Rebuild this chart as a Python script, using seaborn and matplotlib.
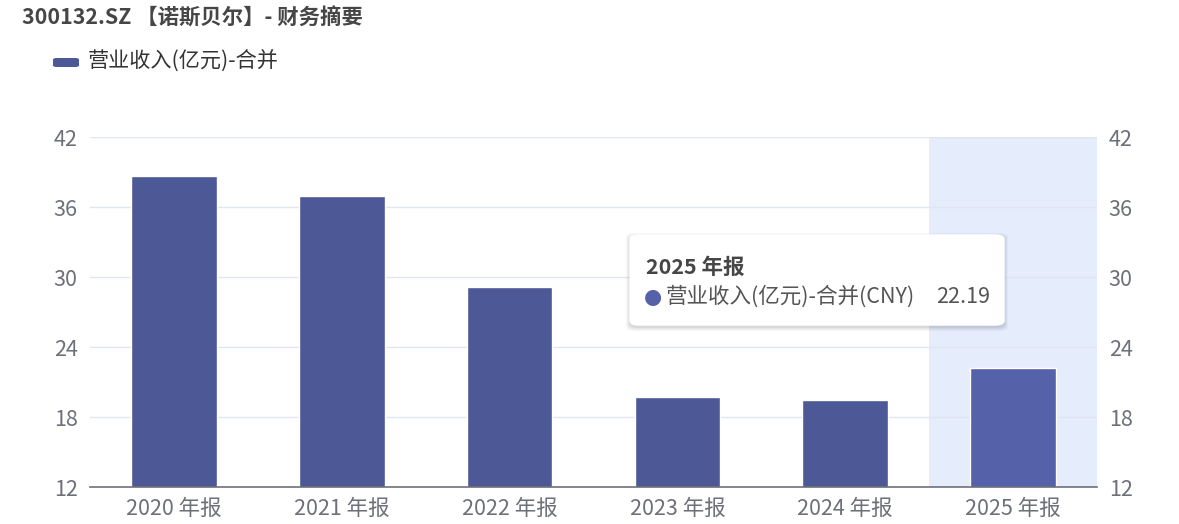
import matplotlib
matplotlib.use("Agg")
import matplotlib.pyplot as plt
from matplotlib.patches import FancyBboxPatch
import seaborn as sns
import pandas as pd

# data
periods = ["2020 年报", "2021 年报", "2022 年报", "2023 年报", "2024 年报", "2025 年报"]
revenue = [38.65, 36.94, 29.17, 19.69, 19.43, 22.19]
series_name = "营业收入(亿元)-合并"
y_ticks = [12, 18, 24, 30, 36, 42]
highlight = "2025 年报"

df = pd.DataFrame({"period": periods, "revenue": revenue})

sns.set_style("white")
plt.rcParams["font.family"] = ["Noto Sans CJK SC", "DejaVu Sans"]

text_grey = "#6e7079"
bar_color = "#4d5897"
hover_color = "#5561a8"
colors = [hover_color if p == highlight else bar_color for p in periods]
fs = 15.5

W, H = 1179, 524
fig = plt.figure(figsize=(W / 100, H / 100), dpi=100)
ax = fig.add_axes([90 / W, 1 - 487 / H, (1097 - 90) / W, (487 - 137) / H])

# hover band behind the highlighted category
hi = periods.index(highlight)
ax.axvspan(hi - 0.5, hi + 0.5, color="#e5ecfb", zorder=0, lw=0)

sns.barplot(data=df, x="period", y="revenue", hue="period", palette=colors,
            width=0.51, legend=False, saturation=1, ax=ax, zorder=2)

ax.set_xlim(-0.5, len(periods) - 0.5)
ax.set_ylim(y_ticks[0], y_ticks[-1])
ax.set_yticks(y_ticks)
ax.set_xlabel("")
ax.set_ylabel("")
for t in y_ticks[1:]:
    ax.axhline(t, color="#e0e6f1", lw=1, zorder=1)
for s in ["top", "right", "left"]:
    ax.spines[s].set_visible(False)
ax.spines["bottom"].set_color(text_grey)
ax.spines["bottom"].set_linewidth(1.2)
ax.spines["bottom"].set_zorder(3)
ax.tick_params(axis="both", length=0, labelsize=fs, labelcolor=text_grey)
ax.tick_params(axis="y", pad=9)
ax.tick_params(axis="x", pad=8)

ax2 = ax.twinx()
ax2.set_ylim(y_ticks[0], y_ticks[-1])
ax2.set_yticks(y_ticks)
for s in ["top", "right", "left", "bottom"]:
    ax2.spines[s].set_visible(False)
ax2.tick_params(axis="y", length=0, labelsize=fs, labelcolor=text_grey, pad=8.5)

# title and legend
fig.text(22 / W, 1 - 18 / H, "300132.SZ 【诺斯贝尔】- 财务摘要", fontsize=15.4,
         fontweight="bold", color="#464646", va="center", ha="left")
fig.patches.append(FancyBboxPatch((53 / W, 1 - 67 / H), 26 / W, 9 / H,
                                  boxstyle="round,pad=0,rounding_size=0.003",
                                  transform=fig.transFigure, fc=bar_color, ec="none"))
fig.text(88 / W, 1 - 62 / H, series_name, fontsize=15.2, color="#333333",
         va="center", ha="left")

# tooltip
x0, y0, x1, y1 = 630, 235, 1004, 325
for i, a in enumerate([0.03, 0.03, 0.04, 0.05]):
    g = 4 - i
    fig.patches.append(FancyBboxPatch(((x0 - g) / W, 1 - (y1 + g + 2) / H),
                                      (x1 - x0 + 2 * g) / W, (y1 - y0 + 2 * g) / H,
                                      boxstyle="round,pad=0,rounding_size=0.008",
                                      transform=fig.transFigure, fc="black",
                                      alpha=a, ec="none", zorder=5))
fig.patches.append(FancyBboxPatch((x0 / W, 1 - y1 / H), (x1 - x0) / W, (y1 - y0) / H,
                                  boxstyle="round,pad=0,rounding_size=0.008",
                                  transform=fig.transFigure, fc="white",
                                  ec="#ffffff", zorder=6))
fig.text(646 / W, 1 - 267 / H, highlight, fontsize=fs, fontweight="bold",
         color="#464646", va="center", ha="left", zorder=7)
fig.text(644 / W, 1 - 297 / H, "●", fontsize=15, color=hover_color,
         va="center", ha="left", zorder=7, family=["DejaVu Sans"])
fig.text(666 / W, 1 - 297 / H, series_name + "(CNY)", fontsize=fs,
         color="#555555", va="center", ha="left", zorder=7)
fig.text(990 / W, 1 - 297 / H, f"{revenue[hi]:.2f}", fontsize=fs,
         color="#555555", va="center", ha="right", zorder=7)

fig.savefig("out.png", dpi=100)
